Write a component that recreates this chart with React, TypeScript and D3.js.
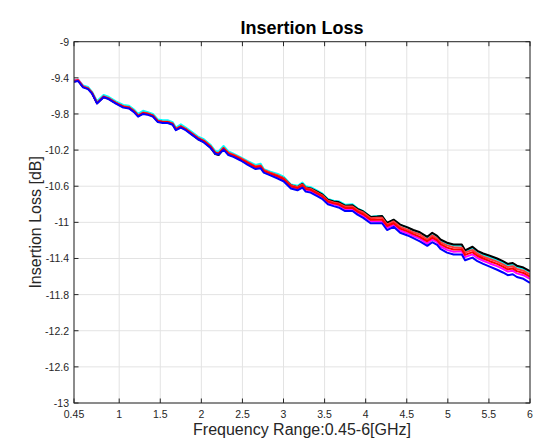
import React from "react";
import * as d3 from "d3";

const freqGHz = [
  0.45, 0.5, 0.56, 0.62, 0.67, 0.73, 0.81, 0.87, 0.96, 1.05,
  1.12, 1.18, 1.23, 1.29, 1.35, 1.41, 1.47, 1.53, 1.59, 1.65,
  1.69, 1.75, 1.81, 1.87, 1.96, 2.03, 2.11, 2.17, 2.21, 2.27,
  2.33, 2.39, 2.48, 2.56, 2.66, 2.72, 2.76, 2.84, 2.93, 3.0,
  3.09, 3.17, 3.23, 3.27, 3.33, 3.41, 3.47, 3.54, 3.61, 3.67,
  3.75, 3.84, 3.9, 3.97, 4.06, 4.14, 4.2, 4.26, 4.34, 4.42,
  4.51, 4.58, 4.66, 4.75, 4.81, 4.87, 4.91, 4.99, 5.07, 5.17,
  5.21, 5.3, 5.36, 5.43, 5.51, 5.6, 5.67, 5.73, 5.79, 5.84,
  5.92, 6.0,
];

// reference trace (red), dB
const redLoss = [
  -9.44, -9.43, -9.5, -9.52, -9.57, -9.68, -9.61, -9.63, -9.68, -9.72,
  -9.73, -9.77, -9.82, -9.79, -9.8, -9.82, -9.88, -9.89, -9.89, -9.91,
  -9.97, -9.94, -9.97, -10.01, -10.07, -10.1, -10.16, -10.23, -10.24, -10.18,
  -10.24, -10.26, -10.3, -10.34, -10.39, -10.38, -10.43, -10.46, -10.49, -10.52,
  -10.6, -10.62, -10.59, -10.63, -10.64, -10.68, -10.71, -10.77, -10.79, -10.8,
  -10.84, -10.84, -10.88, -10.91, -10.97, -10.97, -10.97, -11.04, -11.01, -11.07,
  -11.1, -11.13, -11.16, -11.21, -11.17, -11.2, -11.24, -11.28, -11.3, -11.3,
  -11.36, -11.33, -11.37, -11.4, -11.43, -11.46, -11.49, -11.52, -11.51, -11.54,
  -11.56, -11.6,
];

// deviations of the other traces from the red trace, dB
const cyanDev = [
  0.01, 0.01, 0.015, 0.02, 0.015, 0.02, 0.02, 0.02, 0.02, 0.02,
  0.02, 0.02, 0.02, 0.025, 0.02, 0.02, 0.02, 0.02, 0.02, 0.02,
  0.02, 0.025, 0.02, 0.02, 0.02, 0.02, 0.02, 0.02, 0.025, 0.025,
  0.025, 0.02, 0.02, 0.02, 0.025, 0.03, 0.02, 0.02, 0.025, 0.025,
  0.02, 0.025, 0.03, 0.03, 0.03, 0.03, 0.03, 0.03, 0.03, 0.035,
  0.035, 0.04, 0.035, 0.035, 0.03, 0.04, 0.04, 0.03, 0.035, 0.04,
  0.04, 0.035, 0.04, 0.04, 0.045, 0.035, 0.04, 0.04, 0.045, 0.04,
  0.035, 0.045, 0.04, 0.04, 0.04, 0.045, 0.04, 0.04, 0.04, 0.045,
  0.045, 0.05,
];
const blackDev = [
  0, 0, 0, 0, 0, 0, -0.005, 0, 0, 0,
  0, 0, 0, 0, 0, 0, 0, 0, 0, 0,
  0, 0, 0, -0.005, -0.01, -0.01, -0.01, -0.015, -0.015, -0.01,
  -0.01, -0.005, 0, 0, 0, 0, 0.005, 0.005, 0.005, 0.01,
  0.01, 0.01, 0.015, 0.015, 0.015, 0.02, 0.02, 0.02, 0.02, 0.025,
  0.025, 0.03, 0.03, 0.03, 0.03, 0.035, 0.04, 0.035, 0.04, 0.045,
  0.045, 0.045, 0.05, 0.05, 0.055, 0.05, 0.05, 0.055, 0.055, 0.055,
  0.05, 0.06, 0.055, 0.055, 0.06, 0.06, 0.06, 0.06, 0.06, 0.06,
  0.06, 0.06,
];
const red2Dev = [
  0.005, 0.005, 0.005, 0.005, 0.005, 0.005, 0.005, 0.005, 0.005, 0.005,
  0.005, 0.005, 0.005, 0.005, 0.005, 0.005, 0.005, 0.005, 0.005, 0.005,
  0.005, 0.005, 0.005, 0.005, 0.005, 0.005, 0.005, 0.005, 0.005, 0.005,
  0.01, 0.01, 0.01, 0.01, 0.01, 0.01, 0.01, 0.01, 0.01, 0.01,
  0.01, 0.01, 0.01, 0.01, 0.01, 0.01, 0.01, 0.01, 0.01, 0.01,
  0.015, 0.015, 0.015, 0.02, 0.015, 0.02, 0.02, 0.015, 0.02, 0.02,
  0.02, 0.02, 0.025, 0.02, 0.025, 0.02, 0.02, 0.025, 0.025, 0.02,
  0.025, 0.025, 0.025, 0.02, 0.025, 0.025, 0.025, 0.025, 0.025, 0.025,
  0.025, 0.025,
];
const magentaDev = [
  0.01, 0.01, 0.005, 0, 0, 0, 0, 0, 0, 0,
  -0.005, -0.005, -0.005, -0.005, -0.005, -0.005, -0.005, -0.005, -0.005, -0.005,
  -0.005, -0.005, -0.005, -0.005, -0.005, -0.005, -0.005, -0.005, -0.005, -0.005,
  -0.01, -0.01, -0.01, -0.01, -0.01, -0.01, -0.01, -0.01, -0.01, -0.01,
  -0.01, -0.01, -0.01, -0.01, -0.01, -0.01, -0.01, -0.01, -0.01, -0.01,
  -0.015, -0.015, -0.015, -0.02, -0.015, -0.02, -0.02, -0.02, -0.02, -0.02,
  -0.02, -0.02, -0.02, -0.025, -0.02, -0.02, -0.025, -0.025, -0.025, -0.02,
  -0.025, -0.025, -0.025, -0.025, -0.025, -0.025, -0.025, -0.025, -0.025, -0.025,
  -0.025, -0.025,
];
const blueDev = [
  -0.005, -0.005, -0.005, -0.005, -0.005, -0.005, -0.005, -0.005, -0.005, -0.01,
  -0.01, -0.01, -0.01, -0.01, -0.01, -0.01, -0.01, -0.01, -0.01, -0.01,
  -0.01, -0.01, -0.01, -0.01, -0.01, -0.015, -0.015, -0.01, -0.01, -0.015,
  -0.015, -0.015, -0.015, -0.02, -0.02, -0.02, -0.02, -0.02, -0.025, -0.025,
  -0.025, -0.025, -0.025, -0.03, -0.03, -0.03, -0.03, -0.03, -0.03, -0.035,
  -0.035, -0.035, -0.035, -0.04, -0.04, -0.04, -0.04, -0.045, -0.04, -0.045,
  -0.045, -0.045, -0.05, -0.05, -0.05, -0.05, -0.055, -0.055, -0.055, -0.055,
  -0.06, -0.06, -0.06, -0.06, -0.06, -0.065, -0.065, -0.065, -0.065, -0.065,
  -0.065, -0.07,
];

const xTicks = [0.45, 1, 1.5, 2, 2.5, 3, 3.5, 4, 4.5, 5, 5.5, 6];
const yTicks = [-9, -9.4, -9.8, -10.2, -10.6, -11, -11.4, -11.8, -12.2, -12.6, -13];

const title = "Insertion Loss";
const xLabel = "Frequency Range:0.45-6[GHz]";
const yLabel = "Insertion Loss [dB]";

const traces = [
  { color: "#00ffff", dev: cyanDev },
  { color: "#000000", dev: blackDev },
  { color: "#ff00ff", dev: magentaDev },
  { color: "#ff3b3b", dev: red2Dev },
  { color: "#ff0000", dev: null },
  { color: "#0000ff", dev: blueDev },
];

const W = 534;
const H = 443;
const M = { left: 74, right: 530, top: 41.7, bottom: 403 };
const FONT = "'Liberation Sans', Arial, Helvetica, sans-serif";

export default function App() {
  const x = d3.scaleLinear().domain([0.45, 6]).range([M.left, M.right]);
  const y = d3.scaleLinear().domain([-13, -9]).range([M.bottom, M.top]);
  const line = d3
    .line<[number, number]>()
    .x((d) => x(d[0]))
    .y((d) => y(d[1]));
  const tickLen = 4.5;
  const axisColor = "#262626";

  return (
    <svg
      width={W}
      height={H}
      style={{ position: "absolute", left: 0, top: 0, background: "#ffffff" }}
      fontFamily={FONT}
    >
      <defs>
        <clipPath id="plotclip">
          <rect x={M.left} y={M.top} width={M.right - M.left} height={M.bottom - M.top} />
        </clipPath>
      </defs>
      <rect x={M.left} y={M.top} width={M.right - M.left} height={M.bottom - M.top} fill="#ffffff" />
      {/* grid */}
      {xTicks.map((t) => (
        <line key={"gx" + t} x1={x(t)} x2={x(t)} y1={M.top} y2={M.bottom} stroke="#e3e3e3" strokeWidth={1} />
      ))}
      {yTicks.map((t) => (
        <line key={"gy" + t} x1={M.left} x2={M.right} y1={y(t)} y2={y(t)} stroke="#e3e3e3" strokeWidth={1} />
      ))}
      {/* traces */}
      <g clipPath="url(#plotclip)">
        {traces.map((tr, i) => {
          const pts: [number, number][] = freqGHz.map((f, k) => [
            f,
            redLoss[k] + (tr.dev ? tr.dev[k] : 0),
          ]);
          return (
            <path
              key={i}
              d={line(pts) || ""}
              fill="none"
              stroke={tr.color}
              strokeWidth={2}
              strokeLinejoin="round"
            />
          );
        })}
      </g>
      {/* box */}
      <rect
        x={M.left}
        y={M.top}
        width={M.right - M.left}
        height={M.bottom - M.top}
        fill="none"
        stroke={axisColor}
        strokeWidth={1}
      />
      {/* ticks */}
      {xTicks.map((t) => (
        <g key={"tx" + t}>
          <line x1={x(t)} x2={x(t)} y1={M.bottom} y2={M.bottom - tickLen} stroke={axisColor} />
          <line x1={x(t)} x2={x(t)} y1={M.top} y2={M.top + tickLen} stroke={axisColor} />
          <text x={x(t)} y={418} textAnchor="middle" fontSize={10.5} fill={axisColor}>
            {String(t)}
          </text>
        </g>
      ))}
      {yTicks.map((t) => (
        <g key={"ty" + t}>
          <line x1={M.left} x2={M.left + tickLen} y1={y(t)} y2={y(t)} stroke={axisColor} />
          <line x1={M.right} x2={M.right - tickLen} y1={y(t)} y2={y(t)} stroke={axisColor} />
          <text x={M.left - 5} y={y(t)} textAnchor="end" dominantBaseline="central" fontSize={10.5} fill={axisColor}>
            {String(t)}
          </text>
        </g>
      ))}
      {/* labels */}
      <text x={(M.left + M.right) / 2} y={34} textAnchor="middle" fontSize={18} fontWeight="bold" fill="#000">
        {title}
      </text>
      <text x={(M.left + M.right) / 2} y={435} textAnchor="middle" fontSize={16} fill={axisColor}>
        {xLabel}
      </text>
      <text
        transform={`translate(41, ${(M.top + M.bottom) / 2}) rotate(-90)`}
        textAnchor="middle"
        fontSize={16}
        fill={axisColor}
      >
        {yLabel}
      </text>
    </svg>
  );
}
